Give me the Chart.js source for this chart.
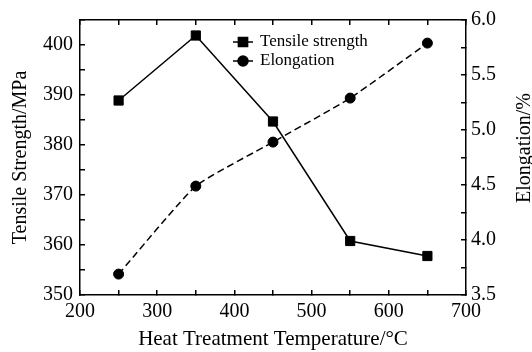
<!DOCTYPE html>
<html>
<head>
<meta charset="utf-8">
<script src="https://cdn.jsdelivr.net/npm/chart.js@4"></script>
<style>
  body { margin: 0; background: #fff; }
</style>
</head>
<body>
<canvas id="myChart" width="532" height="352"></canvas>
<script>
// values
const temperatures = [250, 350, 450, 550, 650]
const tensileStrength = [388.9, 401.9, 384.7, 360.8, 357.8]
const elongation = [3.69, 4.49, 4.89, 5.29, 5.79]
const xTickLabels = [200, 300, 400, 500, 600, 700]
const leftTickLabels = [350, 360, 370, 380, 390, 400]
const rightTickLabels = ['3.5', '4.0', '4.5', '5.0', '5.5', '6.0']

const FONT = 'Liberation Serif'
const INK = '#000'

function toPoints(ys){
    var pts = []
    for (let i = 0; i < temperatures.length; i++){
        pts.push({x: temperatures[i], y: ys[i]})
    }
    return pts
}

function pickLabel(list, value){
    for (const l of list){
        if (Math.abs(Number(l) - value) < 1e-6) return String(l)
    }
    return ''
}

// fixed box sizes, no extra padding from overhanging labels
function fixSize(w, h){
    return function(s){
        if (w !== null) s.width = w
        if (h !== null) s.height = h
        s.paddingTop = 0
        s.paddingBottom = 0
        s.paddingLeft = 0
        s.paddingRight = 0
    }
}

// legend inside the plot + right axis title that reads bottom to top
const extras = {
    id: 'extras',
    afterDraw(chart){
        const ctx = chart.ctx
        const area = chart.chartArea
        ctx.save()
        // right title
        ctx.font = '20px "' + FONT + '"'
        ctx.fillStyle = INK
        ctx.textAlign = 'center'
        ctx.textBaseline = 'middle'
        ctx.translate(525, 148)
        ctx.rotate(-Math.PI / 2)
        ctx.fillText('Elongation/%', 0, 0)
        ctx.restore()

        ctx.save()
        let lx = area.left + 153
        let ly = area.top + 22
        chart.data.datasets.forEach(function(ds, i){
            let y = ly + i * 19
            ctx.strokeStyle = INK
            ctx.lineWidth = 1.5
            ctx.setLineDash([])
            ctx.beginPath()
            ctx.moveTo(lx, y)
            ctx.lineTo(lx + 20, y)
            ctx.stroke()
            Chart.helpers.drawPoint(ctx, {
                pointStyle: ds.pointStyle,
                radius: ds.pointRadius,
                borderWidth: 1
            }, lx + 10, y)
            ctx.fillStyle = INK
            ctx.font = '17px "' + FONT + '"'
            ctx.textAlign = 'left'
            ctx.textBaseline = 'middle'
            ctx.fillText(ds.label, lx + 27, y)
        })
        ctx.restore()
    }
}

const tickFont = {family: FONT, size: 20}
const axisBorder = {display: true, color: INK, width: 1.5}
const inwardGrid = {drawOnChartArea: false, drawTicks: true, tickLength: -5, color: INK, lineWidth: 1.5}

let myChart = document.getElementById('myChart').getContext('2d')
let tempChart = new Chart(myChart, {
    type: 'line',
    data: {
        datasets: [{
            label: 'Tensile strength',
            data: toPoints(tensileStrength),
            yAxisID: 'y',
            borderColor: INK,
            backgroundColor: INK,
            borderWidth: 1.5,
            pointStyle: 'rect',
            pointRadius: 6.5,
            pointBorderWidth: 1,
            tension: 0
        }, {
            label: 'Elongation',
            data: toPoints(elongation),
            yAxisID: 'y1',
            borderColor: INK,
            backgroundColor: INK,
            borderWidth: 1.5,
            borderDash: [7, 4],
            pointStyle: 'circle',
            pointRadius: 5,
            pointBorderWidth: 1,
            tension: 0.15
        }]
    },
    options: {
        responsive: false,
        devicePixelRatio: 1,
        animation: false,
        layout: {padding: 0},
        plugins: {legend: {display: false}, tooltip: {enabled: false}},
        scales: {
            x: {
                type: 'linear',
                position: 'bottom',
                min: 200, max: 700,
                border: axisBorder,
                grid: inwardGrid,
                ticks: {
                    stepSize: 50, autoSkip: false, maxRotation: 0,
                    color: INK, font: tickFont, padding: 10,
                    callback: v => pickLabel(xTickLabels, v)
                },
                title: {
                    display: true,
                    text: 'Heat Treatment Temperature/\u00B0C',
                    color: INK,
                    font: {family: FONT, size: 21},
                    padding: 0
                },
                afterFit: fixSize(null, 57)
            },
            xTop: {
                type: 'linear',
                position: 'top',
                min: 200, max: 700,
                border: axisBorder,
                grid: inwardGrid,
                ticks: {stepSize: 50, autoSkip: false, display: false},
                afterFit: fixSize(null, 20)
            },
            y: {
                type: 'linear',
                position: 'left',
                min: 350, max: 405,
                border: axisBorder,
                grid: inwardGrid,
                ticks: {
                    stepSize: 5, autoSkip: false,
                    color: INK, font: tickFont, padding: 12,
                    callback: v => pickLabel(leftTickLabels, v)
                },
                title: {
                    display: true,
                    text: 'Tensile Strength/MPa',
                    color: INK,
                    font: {family: FONT, size: 20},
                    padding: {top: 9, bottom: 0}
                },
                afterFit: fixSize(80, null)
            },
            y1: {
                type: 'linear',
                position: 'right',
                min: 3.5, max: 6.0,
                border: axisBorder,
                grid: inwardGrid,
                ticks: {
                    stepSize: 0.25, autoSkip: false,
                    color: INK, font: tickFont, padding: 10,
                    callback: v => pickLabel(rightTickLabels, v)
                },
                afterFit: fixSize(66, null)
            }
        }
    },
    plugins: [extras]
})
</script>
</body>
</html>
